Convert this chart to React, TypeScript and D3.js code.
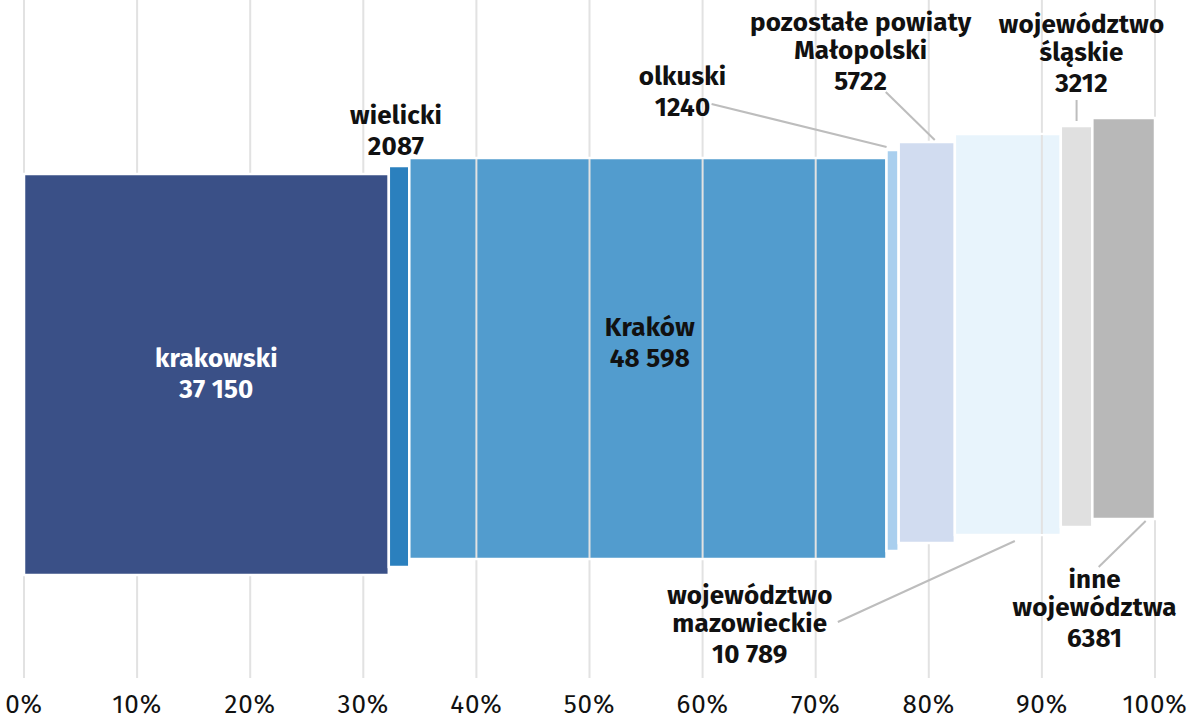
import React from 'react';
import * as d3 from 'd3';

const names = [
  'krakowski',
  'wielicki',
  'Kraków',
  'olkuski',
  'pozostałe powiaty Małopolski',
  'województwo mazowieckie',
  'województwo śląskie',
  'inne województwa',
];
const values = [37150, 2087, 48598, 1240, 5722, 10789, 3212, 6381];
const labelLines = [
  ['krakowski'],
  ['wielicki'],
  ['Kraków'],
  ['olkuski'],
  ['pozostałe powiaty', 'Małopolski'],
  ['województwo', 'mazowieckie'],
  ['województwo', 'śląskie'],
  ['inne', 'województwa'],
];
const tickValues = [0, 0.1, 0.2, 0.3, 0.4, 0.5, 0.6, 0.7, 0.8, 0.9, 1];

const colors = ['#3a5087', '#2b80be', '#529cce', '#a9cfee', '#d1dcf0', '#e8f4fc', '#e0e0e0', '#b8b8b8'];
const textColors = ['#ffffff', '#111', '#111', '#111', '#111', '#111', '#111', '#111'];

// where each label sits relative to its bar: 'in' middle, 'top' above, 'bottom' below
const labelPlace = [
  { side: 'in', dx: 10, dy: -8 },
  { side: 'top', dx: -3, dy: -42 },
  { side: 'in', dx: 2, dy: -23 },
  { side: 'top', dx: -210, dy: -65 },
  { side: 'top', dx: -66, dy: -111 },
  { side: 'bottom', dx: -258, dy: 69 },
  { side: 'top', dx: 5, dy: -93 },
  { side: 'bottom', dx: -29, dy: 69 },
];
// leader lines [x1, y1, x2, y2] relative to bar centre and top/bottom edge
const leaders: (number[] | null)[] = [
  null,
  null,
  null,
  [-181, -46, -6, -3],
  [-41, -50, 8, -2],
  [-170, 87, 7, 6],
  [0, -26, 0, -5],
  [-25, 48, 22, 2],
];
const gridOverBars = ['Kraków', 'województwo mazowieckie'];

const fmtPl = d3.formatLocale({ decimal: ',', thousands: '\u2009', grouping: [3], currency: ['', ''] }).format(',');
const fmtValue = (v: number) => (v >= 10000 ? fmtPl(v).replace('\u2009', ' ') : String(v));

const W = 1199;
const H = 720;
const FONT = "'Fira Sans', Roboto, 'Noto Sans', sans-serif";

const App = () => {
  const total = d3.sum(values);
  const starts = d3.cumsum([0, ...values.slice(0, -1)]).map((d) => d / total);
  const shares = values.map((d) => d / total);

  const x = d3.scaleLinear().domain([0, 1]).range([24, 1155]);
  const yTop = d3.scaleLinear().domain([0, names.length - 1]).range([174, 118]);
  const barH = 401;
  const gridTop = 0;
  const gridBottom = 678;

  const bars = names.map((name, i) => {
    const x0 = x(starts[i]);
    const x1 = x(starts[i] + shares[i]);
    const top = yTop(i);
    return { name, i, x0, x1, cx: (x0 + x1) / 2, top, bottom: top + barH };
  });

  return (
    <svg width={W} height={H} style={{ position: 'absolute', left: 0, top: 0, display: 'block', background: '#fff' }}>
      <g className="grid">
        {tickValues.map((t) => (
          <line key={t} x1={x(t)} x2={x(t)} y1={gridTop} y2={gridBottom} stroke="#e2e2e2" strokeWidth={2} />
        ))}
      </g>
      <g className="bars">
        {bars.map((b) => (
          <rect
            key={b.name}
            x={b.x0}
            y={b.top}
            width={b.x1 - b.x0}
            height={barH}
            fill={colors[b.i]}
            stroke="#fff"
            strokeWidth={2.5}
          />
        ))}
      </g>
      <g className="grid-over">
        {bars
          .filter((b) => gridOverBars.includes(b.name))
          .map((b) =>
            tickValues
              .filter((t) => x(t) > b.x0 + 3 && x(t) < b.x1 - 3)
              .map((t) => (
                <line
                  key={b.name + t}
                  x1={x(t)}
                  x2={x(t)}
                  y1={b.top + 1}
                  y2={b.bottom - 1}
                  stroke="#e2e2e2"
                  strokeWidth={2}
                />
              ))
          )}
      </g>
      <g className="leaders">
        {bars.map((b) => {
          const l = leaders[b.i];
          if (!l) return null;
          const base = labelPlace[b.i].side === 'bottom' ? b.bottom : b.top;
          return (
            <line
              key={b.name}
              x1={b.cx + l[0]}
              y1={base + l[1]}
              x2={b.cx + l[2]}
              y2={base + l[3]}
              stroke="#bdbdbd"
              strokeWidth={2}
            />
          );
        })}
      </g>
      <g className="labels" fontFamily={FONT} fontWeight={700} fontSize={26} letterSpacing={0.2} textAnchor="middle">
        {bars.map((b) => {
          const p = labelPlace[b.i];
          const base = p.side === 'in' ? (b.top + b.bottom) / 2 : p.side === 'top' ? b.top : b.bottom;
          const lx = b.cx + p.dx;
          const ly = base + p.dy;
          const lines = labelLines[b.i];
          return (
            <text key={b.name} fill={textColors[b.i]}>
              {lines.map((s, k) => (
                <tspan key={k} x={lx} y={ly + k * 28}>
                  {s}
                </tspan>
              ))}
              <tspan x={lx} y={ly + (lines.length - 1) * 28 + 31}>
                {fmtValue(values[b.i])}
              </tspan>
            </text>
          );
        })}
      </g>
      <g className="axis" fontFamily={FONT} fontSize={26} letterSpacing={0.8} textAnchor="middle" fill="#111">
        {tickValues.map((t) => (
          <text key={t} x={x(t)} y={713}>
            {d3.format('.0%')(t)}
          </text>
        ))}
      </g>
    </svg>
  );
};

export default App;
